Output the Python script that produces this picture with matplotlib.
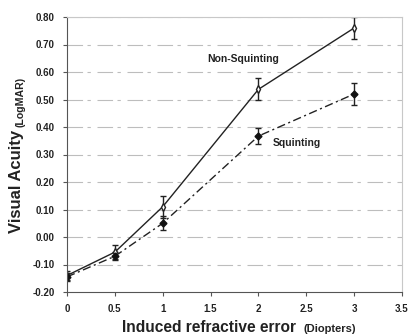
import matplotlib.pyplot as plt

plt.rcParams['font.family'] = ['Liberation Sans', 'DejaVu Sans']

diopters = [0, 0.5, 1, 2, 3]

non_squint = [-0.14, -0.055, 0.11, 0.537, 0.76]
non_squint_err = [0.015, 0.025, 0.04, 0.04, 0.04]

squint = [-0.145, -0.07, 0.05, 0.367, 0.52]
squint_err = [0.015, 0.015, 0.025, 0.03, 0.04]

x_ticks = [0, 0.5, 1, 1.5, 2, 2.5, 3, 3.5]
x_tick_labels = ['0', '0.5', '1', '1.5', '2', '2.5', '3', '3.5']
y_ticks = [-0.2, -0.1, 0.0, 0.1, 0.2, 0.3, 0.4, 0.5, 0.6, 0.7, 0.8]

fig = plt.figure(figsize=(4.08, 3.36), dpi=100)
ax = fig.add_axes([67 / 408, 1 - 292 / 336, 335 / 408, 275 / 336])

for y in y_ticks[1:]:
    ax.axhline(y, color='#bdbdbd', lw=0.8, dashes=(14, 4, 3, 6), zorder=0)

ax.errorbar(diopters, non_squint, yerr=non_squint_err, color='#222222', lw=1.0,
            marker='d', ms=4, mfc='white', mec='#222222', capsize=2.5,
            elinewidth=1.0, capthick=1.0)
ax.errorbar(diopters, squint, yerr=squint_err, color='#222222', lw=1.0,
            ls=(0, (6, 2.5, 1.5, 2.5)), marker='D', ms=3.5, mfc='#111111',
            mec='#111111', capsize=2.5, elinewidth=1.0, capthick=1.0)

ax.text(1.47, 0.647, 'Non-Squinting', fontsize=7.5, fontweight='bold',
        va='center', ha='left', color='#222222')
ax.text(2.15, 0.342, 'Squinting', fontsize=7.5, fontweight='bold',
        va='center', ha='left', color='#222222')

ax.set_xlim(0, 3.5)
ax.set_ylim(-0.2, 0.8)
ax.set_xticks(x_ticks)
ax.set_xticklabels(x_tick_labels)
ax.set_yticks(y_ticks)
ax.set_yticklabels(['%.2f' % v for v in y_ticks])
ax.tick_params(labelsize=7, length=3, color='#555555', pad=6)
for lbl in ax.get_xticklabels() + ax.get_yticklabels():
    lbl.set_fontweight('bold')
    lbl.set_color('#222222')

for side in ['top', 'right']:
    ax.spines[side].set_color('#c8c8c8')
    ax.spines[side].set_linewidth(0.8)
for side in ['left', 'bottom']:
    ax.spines[side].set_color('#555555')
    ax.spines[side].set_linewidth(0.8)

# axis titles with smaller unit text
fig.text(122 / 408, 1 - 328 / 336, 'Induced refractive error', fontsize=11.2,
         fontweight='bold', ha='left', va='center', color='#222222')
fig.text(303 / 408, 1 - 329 / 336, '(Diopters)', fontsize=8,
         fontweight='bold', ha='left', va='center', color='#222222')
fig.text(17 / 408, 1 - 233 / 336, 'Visual Acuity', fontsize=12,
         fontweight='bold', ha='center', va='bottom', rotation=90,
         color='#222222')
fig.text(21 / 408, 1 - 127 / 336, '(LogMAR)', fontsize=7.6,
         fontweight='bold', ha='center', va='bottom', rotation=90,
         color='#222222')

fig.savefig('out.png', dpi=100)
